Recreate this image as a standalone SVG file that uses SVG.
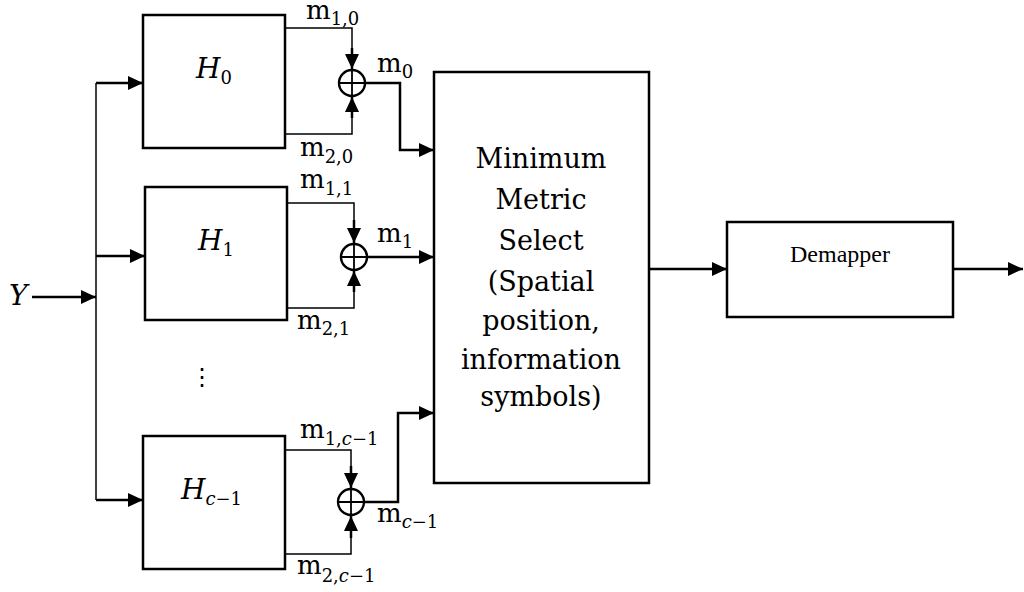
<svg xmlns="http://www.w3.org/2000/svg" width="1024" height="592" viewBox="0 0 1024 592">
<style>
.box{fill:#fff;stroke:#000;stroke-width:2.5}
.ln{fill:none;stroke:#000;stroke-width:1.5}
.ar{fill:none;stroke:#000;stroke-width:2.5}
.sum{fill:#fff;stroke:#000;stroke-width:2.4}
.t{font-family:"DejaVu Serif","Liberation Serif",serif;fill:#000}
.m{font-size:26px}
.s{font-size:18px}
.i{font-style:italic}
.big{font-size:27px;text-anchor:middle}
.dm{font-family:"Liberation Serif","Times New Roman",serif;font-size:24px;text-anchor:middle}
</style>
<defs>
<marker id="ah" markerUnits="userSpaceOnUse" markerWidth="15" markerHeight="14" refX="15" refY="7" orient="auto">
<path d="M0,0 L15,7 L0,14 z" fill="#000"/>
</marker>
</defs>

<g id="connectors">
<line class="ar" x1="32" y1="297" x2="96" y2="297" marker-end="url(#ah)"/>
<polyline class="ln" points="96,83 96,500"/>
<line class="ar" x1="96" y1="83" x2="143" y2="83" marker-end="url(#ah)"/>
<line class="ar" x1="96" y1="256" x2="145" y2="256" marker-end="url(#ah)"/>
<line class="ar" x1="96" y1="500" x2="143" y2="500" marker-end="url(#ah)"/>
<polyline class="ln" points="285,28 352,28 352,50"/>
<line class="ar" x1="352" y1="48" x2="352" y2="69" marker-end="url(#ah)"/>
<polyline class="ln" points="285,134 352,134 352,115"/>
<line class="ar" x1="352" y1="118" x2="352" y2="97" marker-end="url(#ah)"/>
<polyline class="ar" points="366,83 400,83 400,150 434,150" marker-end="url(#ah)"/>
<polyline class="ln" points="287,203 354,203 354,222"/>
<line class="ar" x1="354" y1="220" x2="354" y2="243" marker-end="url(#ah)"/>
<polyline class="ln" points="287,308 354,308 354,290"/>
<line class="ar" x1="354" y1="292" x2="354" y2="271" marker-end="url(#ah)"/>
<line class="ar" x1="368" y1="257" x2="434" y2="257" marker-end="url(#ah)"/>
<polyline class="ln" points="285,450 351,450 351,468"/>
<line class="ar" x1="351" y1="466" x2="351" y2="488" marker-end="url(#ah)"/>
<polyline class="ln" points="285,554 351,554 351,536"/>
<line class="ar" x1="351" y1="538" x2="351" y2="516" marker-end="url(#ah)"/>
<polyline class="ar" points="365,502 398,502 398,413 434,413" marker-end="url(#ah)"/>
<line class="ar" x1="649" y1="269" x2="727" y2="269" marker-end="url(#ah)"/>
<line class="ar" x1="953" y1="269" x2="1023" y2="269" marker-end="url(#ah)"/>
</g>

<g id="Y"><text class="t i" x="9" y="305" font-size="28">Y</text></g>

<g id="H0">
<rect class="box" x="143" y="15" width="142" height="133"/>
<text class="t" x="196" y="78"><tspan class="i" font-size="28">H</tspan><tspan class="s" dy="6">0</tspan></text>
</g>
<g id="sum0">
<circle class="sum" cx="352" cy="83" r="13"/>
<path d="M339,83 H365 M352,70 V96" stroke="#000" stroke-width="1.8"/>
</g>
<g id="H1">
<rect class="box" x="145" y="187" width="142" height="133"/>
<text class="t" x="198" y="250"><tspan class="i" font-size="28">H</tspan><tspan class="s" dy="6">1</tspan></text>
</g>
<g id="sum1">
<circle class="sum" cx="354" cy="257" r="13"/>
<path d="M341,257 H367 M354,244 V270" stroke="#000" stroke-width="1.8"/>
</g>
<g id="dots"><text class="t" x="202" y="385" font-size="24" text-anchor="middle">⋮</text></g>
<g id="Hc1">
<rect class="box" x="143" y="436" width="142" height="133"/>
<text class="t" x="181" y="499"><tspan class="i" font-size="28">H</tspan><tspan class="s" dy="6"><tspan class="i">c</tspan>−1</tspan></text>
</g>
<g id="sumc1">
<circle class="sum" cx="351" cy="502" r="13"/>
<path d="M338,502 H364 M351,489 V515" stroke="#000" stroke-width="1.8"/>
</g>

<g id="labels">
<text class="t m" x="306" y="19">m<tspan class="s" dy="6">1,0</tspan></text>
<text class="t m" x="377" y="72">m<tspan class="s" dy="6">0</tspan></text>
<text class="t m" x="300" y="156">m<tspan class="s" dy="7">2,0</tspan></text>
<text class="t m" x="300" y="188">m<tspan class="s" dy="7">1,1</tspan></text>
<text class="t m" x="377" y="242">m<tspan class="s" dy="6">1</tspan></text>
<text class="t m" x="297" y="329">m<tspan class="s" dy="6">2,1</tspan></text>
<text class="t m" x="300" y="438">m<tspan class="s" dy="7">1,<tspan class="i">c</tspan>−1</tspan></text>
<text class="t m" x="377" y="522">m<tspan class="s" dy="6"><tspan class="i">c</tspan>−1</tspan></text>
<text class="t m" x="297" y="574">m<tspan class="s" dy="8">2,<tspan class="i">c</tspan>−1</tspan></text>
</g>

<g id="MMS">
<rect class="box" x="434" y="72" width="215" height="411"/>
<text class="t big" x="541" y="168">Minimum</text>
<text class="t big" x="541" y="209">Metric</text>
<text class="t big" x="541" y="250">Select</text>
<text class="t big" x="541" y="291">(Spatial</text>
<text class="t big" x="541" y="330">position,</text>
<text class="t big" x="541" y="369">information</text>
<text class="t big" x="541" y="406">symbols)</text>
</g>

<g id="Demapper">
<rect class="box" x="727" y="222" width="226" height="95"/>
<text class="dm" x="840" y="262">Demapper</text>
</g>
</svg>
